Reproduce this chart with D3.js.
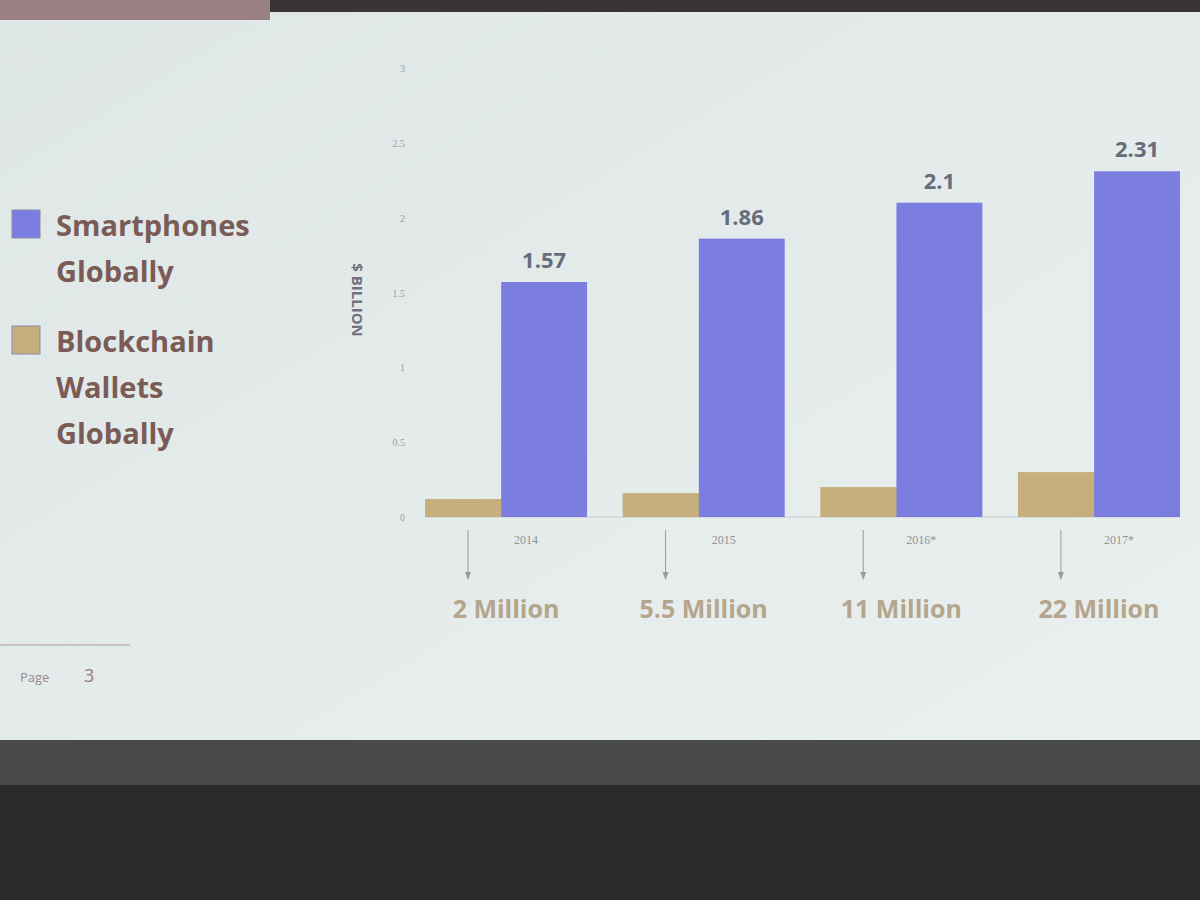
<!DOCTYPE html>
<html><head><meta charset="utf-8">
<script src="https://cdn.jsdelivr.net/npm/d3@7"></script>
<style>body{margin:0;background:#222}</style>
</head><body>
<svg id="chart" width="1200" height="900"></svg>
<script>
var years = ["2014", "2015", "2016*", "2017*"];
var smartphones = [1.57, 1.86, 2.1, 2.31];
var wallets = [0.12, 0.16, 0.2, 0.3];
var walletLabels = ["2 Million", "5.5 Million", "11 Million", "22 Million"];
var yTicks = [0, 0.5, 1, 1.5, 2, 2.5, 3];

var svg = d3.select("#chart");

// screen + room
var grad = svg.append("defs").append("linearGradient").attr("id", "bg")
    .attr("x1", 0).attr("y1", 0).attr("x2", 1).attr("y2", 1);
grad.append("stop").attr("offset", "0%").attr("stop-color", "#dfe6e6");
grad.append("stop").attr("offset", "100%").attr("stop-color", "#e9f0ef");
svg.append("rect").attr("width", 1200).attr("height", 900).attr("fill", "#2a2a2c");
svg.append("rect").attr("y", 12).attr("width", 1200).attr("height", 728).attr("fill", "url(#bg)");
svg.append("rect").attr("y", 740).attr("width", 1200).attr("height", 45).attr("fill", "#4a4a4c");
svg.append("rect").attr("width", 1200).attr("height", 12).attr("fill", "#3a3436");
svg.append("rect").attr("width", 270).attr("height", 20).attr("fill", "#9a7f83");

// legend
var legend = [
  {color: "#7b7ee0", lines: ["Smartphones", "Globally"], y: 226},
  {color: "#c6af7c", lines: ["Blockchain", "Wallets", "Globally"], y: 342}
];
legend.forEach(function(l) {
  svg.append("rect").attr("x", 12).attr("y", l.y - 16).attr("width", 28).attr("height", 28)
     .attr("fill", l.color).attr("stroke", "#8a8aa8");
  l.lines.forEach(function(t, i) {
    svg.append("text").attr("x", 56).attr("y", l.y + 10 + i * 46)
       .attr("font-family", "Open Sans, sans-serif").attr("font-weight", "bold")
       .attr("font-size", 29).attr("fill", "#7a5b56").text(t);
  });
});

var x = d3.scaleBand().domain(years).range([425, 1180]).paddingInner(0.18).paddingOuter(0);
var y = d3.scaleLinear().domain([0, 3]).range([517, 68]);

// y axis (labels only)
svg.selectAll(".ytick").data(yTicks).join("text")
   .attr("x", 405).attr("y", function(d) { return y(d) + 4; })
   .attr("text-anchor", "end").attr("font-family", "Liberation Serif, serif")
   .attr("font-size", 10).attr("fill", "#9aa0a4").text(function(d) { return d; });
svg.append("text").attr("transform", "translate(352,300) rotate(90)")
   .attr("text-anchor", "middle").attr("font-family", "Open Sans, sans-serif")
   .attr("font-weight", "bold").attr("font-size", 15).attr("fill", "#6e7282").text("$ BILLION");

var bw = x.bandwidth() * 0.53;
var g = svg.selectAll(".grp").data(years).join("g");
svg.append("line").attr("x1", 425).attr("x2", 1180).attr("y1", y(0)).attr("y2", y(0))
   .attr("stroke", "#c8ccd0");

svg.selectAll(".wallet").data(wallets).join("rect")
   .attr("x", function(d, i) { return x(years[i]); })
   .attr("y", function(d) { return y(d); })
   .attr("width", bw).attr("height", function(d) { return y(0) - y(d); })
   .attr("fill", "#c6af7c");
svg.selectAll(".phone").data(smartphones).join("rect")
   .attr("x", function(d, i) { return x(years[i]) + x.bandwidth() - bw; })
   .attr("y", function(d) { return y(d); })
   .attr("width", bw).attr("height", function(d) { return y(0) - y(d); })
   .attr("fill", "#7b7ee0");
svg.selectAll(".plabel").data(smartphones).join("text")
   .attr("x", function(d, i) { return x(years[i]) + x.bandwidth() - bw / 2; })
   .attr("y", function(d) { return y(d) - 14; })
   .attr("text-anchor", "middle").attr("font-family", "Open Sans, sans-serif")
   .attr("font-weight", "bold").attr("font-size", 22).attr("fill", "#676b7c")
   .text(function(d) { return d; });

// year labels, arrows, wallet counts
years.forEach(function(yr, i) {
  var cx = x(yr) + x.bandwidth() / 2;
  svg.append("text").attr("x", cx + 20).attr("y", 544).attr("text-anchor", "middle")
     .attr("font-family", "Liberation Serif, serif").attr("font-size", 12).attr("fill", "#8e9498").text(yr);
  var ax = x(yr) + bw / 2;
  svg.append("line").attr("x1", ax).attr("x2", ax).attr("y1", 530).attr("y2", 576)
     .attr("stroke", "#9a9a9a");
  svg.append("path").attr("d", "M" + (ax - 3) + ",572L" + ax + ",580L" + (ax + 3) + ",572Z").attr("fill", "#9a9a9a");
  svg.append("text").attr("x", cx).attr("y", 618).attr("text-anchor", "middle")
     .attr("font-family", "Open Sans, sans-serif").attr("font-weight", "bold")
     .attr("font-size", 25).attr("fill", "#b5a58c").text(walletLabels[i]);
});

// footer
svg.append("line").attr("x1", 0).attr("x2", 130).attr("y1", 645).attr("y2", 645).attr("stroke", "#b49a9e");
svg.append("text").attr("x", 20).attr("y", 682).attr("font-family", "Open Sans, sans-serif")
   .attr("font-size", 13).attr("fill", "#9a8a8a").text("Page");
svg.append("text").attr("x", 84).attr("y", 682).attr("font-family", "Open Sans, sans-serif")
   .attr("font-size", 18).attr("fill", "#9a7a7a").text("3");
</script>
</body></html>
